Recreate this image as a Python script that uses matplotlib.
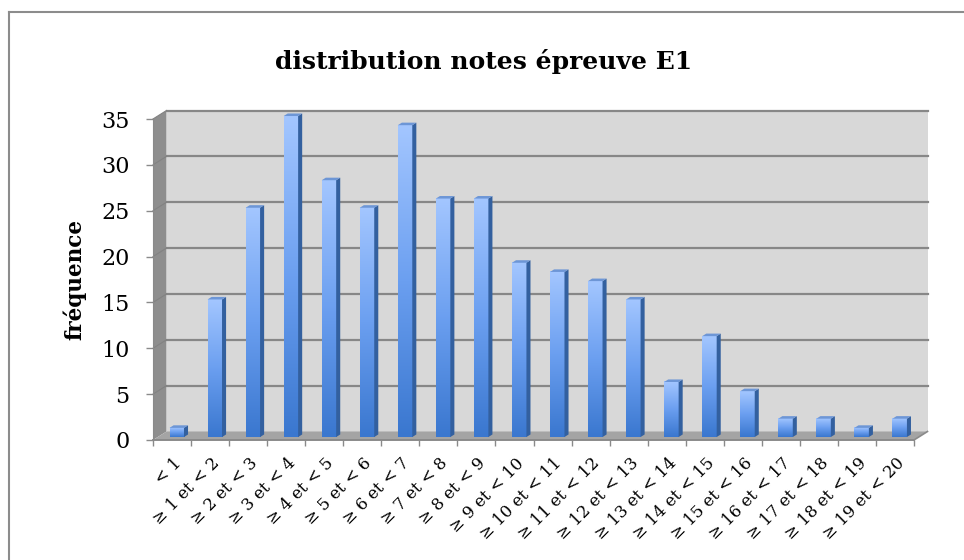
import numpy as np
import matplotlib
matplotlib.use('Agg')
import matplotlib.pyplot as plt
from matplotlib.patches import Polygon
from matplotlib.lines import Line2D
from matplotlib.colors import LinearSegmentedColormap
from matplotlib.transforms import ScaledTranslation

categories = ["< 1", "≥ 1 et < 2", "≥ 2 et < 3", "≥ 3 et < 4", "≥ 4 et < 5",
              "≥ 5 et < 6", "≥ 6 et < 7", "≥ 7 et < 8", "≥ 8 et < 9", "≥ 9 et < 10",
              "≥ 10 et < 11", "≥ 11 et < 12", "≥ 12 et < 13", "≥ 13 et < 14",
              "≥ 14 et < 15", "≥ 15 et < 16", "≥ 16 et < 17", "≥ 17 et < 18",
              "≥ 18 et < 19", "≥ 19 et < 20"]
frequence = [1, 15, 25, 35, 28, 25, 34, 26, 26, 19, 18, 17, 15, 6, 11, 5, 2, 2, 1, 2]
y_ticks = [0, 5, 10, 15, 20, 25, 30, 35]
y_max = 35

plt.rcParams['font.family'] = 'DejaVu Serif'

W, H = 964, 560
fig = plt.figure(figsize=(W / 100, H / 100), dpi=100)
left, right, bottom, top = 153, 914, 440, 119
ax = fig.add_axes([left / W, 1 - bottom / H, (right - left) / W, (bottom - top) / H])
ax.patch.set_visible(False)

n = len(categories)
# depth offset of the back wall, in data units
DX = 13.5 / ((right - left) / n)
DY = 8.5 / ((bottom - top) / y_max)


def P(x, y, d):
    return (x + d * DX, y + d * DY)


def face(points, color, z, ec='none', lw=0):
    ax.add_patch(Polygon(points, closed=True, facecolor=color, edgecolor=ec,
                         linewidth=lw, zorder=z, clip_on=False))


# walls and floor
face([P(0, 0, 0), P(0, y_max, 0), P(0, y_max, 1), P(0, 0, 1)], '#8e8e8e', 1)
face([P(0, 0, 1), P(n, 0, 1), P(n, y_max, 1), P(0, y_max, 1)], '#d8d8d8', 1)
for t in y_ticks[1:]:
    ax.add_line(Line2D(*zip(P(0, t, 1), P(n, t, 1)), color='#878787', lw=1.6,
                       zorder=2, clip_on=False))
    ax.add_line(Line2D(*zip(P(0, t, 0), P(0, t, 1)), color='#828282', lw=0.8,
                       zorder=2, clip_on=False))
face([P(0, 0, 0), P(n, 0, 0), P(n, 0, 1), P(0, 0, 1)], '#a4a4a4', 2)
ax.add_line(Line2D(*zip(P(n, 0, 0), P(n, 0, 1)), color='#8a8a8a', lw=1.2,
                   zorder=2, clip_on=False))

# 3D columns
cmap = LinearSegmentedColormap.from_list('col', ['#3a77cf', '#6b9ff0', '#a3c6ff'])
grad = np.linspace(0, 1, 128).reshape(-1, 1)
w, d0, d1 = 0.38, 0.35, 0.65
for i, v in enumerate(frequence):
    c = i + 0.5
    x0, x1 = c - w / 2, c + w / 2
    fx0, fy0 = P(x0, 0, d0)
    fx1, fy1 = P(x1, v, d0)
    im = ax.imshow(grad, extent=[fx0, fx1, fy0, fy1], cmap=cmap, origin='lower',
                   aspect='auto', interpolation='bilinear', zorder=4)
    im.set_clip_on(False)
    face([P(x1, 0, d0), P(x1, 0, d1), P(x1, v, d1), P(x1, v, d0)], '#33609f', 4)
    face([P(x0, v, d0), P(x1, v, d0), P(x1, v, d1), P(x0, v, d1)], '#6d96d6', 4)

ax.set_xlim(0, n)
ax.set_ylim(0, y_max)

for s in ['top', 'right']:
    ax.spines[s].set_visible(False)
ax.spines['left'].set_color('#8a8a8a')
ax.spines['bottom'].set_color('#8a8a8a')
ax.spines['bottom'].set_linewidth(1.4)
ax.spines['left'].set_zorder(6)
ax.spines['bottom'].set_zorder(6)

ax.set_yticks(y_ticks)
ax.tick_params(axis='y', length=5, width=1, color='#8a8a8a', pad=12, labelsize=16)

ax.set_xticks(np.arange(n) + 0.5)
ax.set_xticklabels(categories, rotation=45, ha='right', va='center',
                   rotation_mode='anchor', fontsize=12)
ax.tick_params(axis='x', which='major', length=0, pad=15)
ax.set_xticks(np.arange(n + 1), minor=True)
ax.tick_params(axis='x', which='minor', length=4.5, width=1, color='#8a8a8a')
shift = ScaledTranslation(7 / 100, 0, fig.dpi_scale_trans)
for lab in ax.get_xticklabels():
    lab.set_transform(lab.get_transform() + shift)

fig.text(484 / W, 1 - 62 / H, 'distribution notes épreuve E1', ha='center',
         va='center', fontsize=18, fontweight='bold')
fig.text(75 / W, 1 - 280 / H, 'fréquence', ha='center', va='center',
         rotation=90, fontsize=15.5, fontweight='bold')

# chart frame (left and top edges)
fig.add_artist(Line2D([9 / W, 9 / W], [0, 1 - 12 / H], transform=fig.transFigure,
                      color='#8c8c8c', lw=1.5))
fig.add_artist(Line2D([9 / W, 1], [1 - 12 / H, 1 - 12 / H], transform=fig.transFigure,
                      color='#8c8c8c', lw=1.5))

fig.savefig('out.png', dpi=100)
